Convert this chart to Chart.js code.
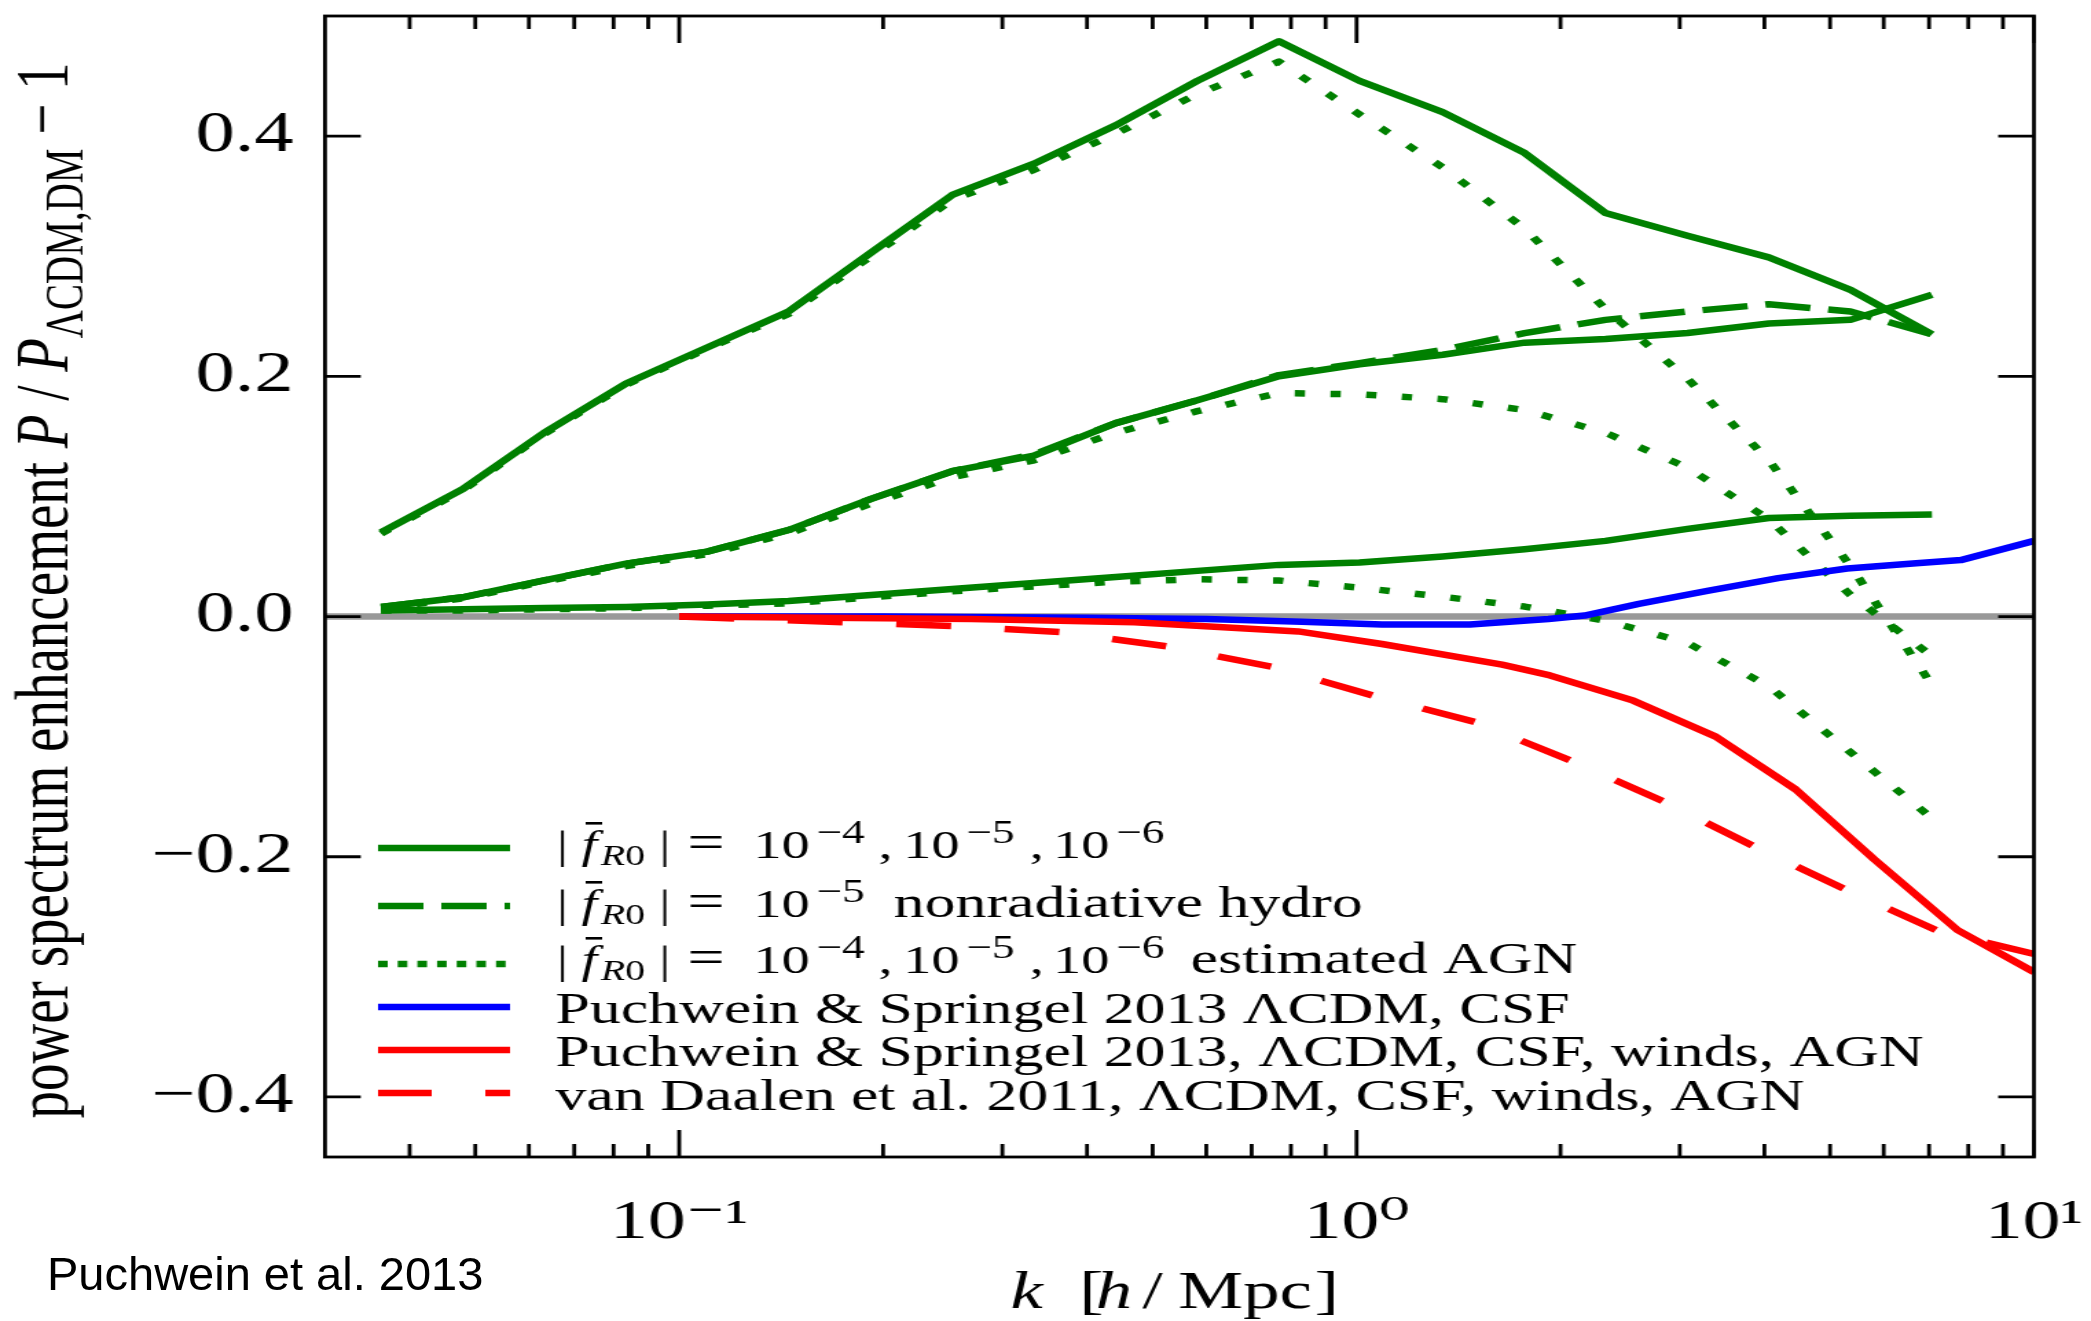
<!DOCTYPE html>
<html>
<head>
<meta charset="utf-8">
<script src="https://cdn.jsdelivr.net/npm/chart.js@4.4.1/dist/chart.umd.min.js"></script>
<style>
  html, body { margin: 0; padding: 0; background: #fff; overflow: hidden; }
  #wrap { position: relative; width: 2091px; height: 1321px; background: #fff; }
  #c { position: absolute; left: 0; top: 0; }
  #note { position: absolute; left: 47px; top: 1251px; font: 47px 'Liberation Sans', Arial, sans-serif;
          line-height: 46px; color: #000; white-space: nowrap; }
</style>
</head>
<body>
<div id="wrap">
  <canvas id="c" width="1521" height="1321" style="width:2091px;height:1321px"></canvas>
  <div id="note">Puchwein et al. 2013</div>
</div>
<script>
// ---------------- data ----------------
const kSim = [0.0363, 0.0479, 0.0632, 0.0835, 0.110, 0.145, 0.192, 0.253, 0.334, 0.441,
              0.582, 0.768, 1.01, 1.34, 1.77, 2.33, 3.08, 4.06, 5.36, 7.07];
const fR4 = [0.070, 0.106, 0.153, 0.194, 0.224, 0.254, 0.303, 0.351, 0.377, 0.409,
             0.446, 0.479, 0.446, 0.420, 0.386, 0.336, 0.317, 0.299, 0.272, 0.235];
const fR5 = [0.008, 0.016, 0.030, 0.044, 0.054, 0.072, 0.098, 0.121, 0.134, 0.161,
             0.180, 0.200, 0.210, 0.218, 0.228, 0.231, 0.236, 0.244, 0.247, 0.268];
const fR6 = [0.005, 0.006, 0.007, 0.008, 0.010, 0.013, 0.018, 0.023, 0.028, 0.033,
             0.038, 0.043, 0.045, 0.050, 0.056, 0.063, 0.073, 0.082, 0.084, 0.085];
const fR5Hydro = [0.008, 0.016, 0.030, 0.044, 0.054, 0.072, 0.098, 0.121, 0.135, 0.161,
                  0.180, 0.201, 0.211, 0.222, 0.236, 0.247, 0.254, 0.260, 0.254, 0.235];
const fR4AGN = [0.069, 0.105, 0.152, 0.193, 0.223, 0.252, 0.300, 0.347, 0.372, 0.402,
                0.435, 0.462, 0.418, 0.374, 0.323, 0.256, 0.198, 0.130, 0.042, -0.057];
const fR5AGN = [0.007, 0.015, 0.029, 0.042, 0.052, 0.069, 0.094, 0.116, 0.130, 0.153,
                0.171, 0.186, 0.185, 0.181, 0.172, 0.153, 0.124, 0.081, 0.018, -0.033];
const fR6AGN = [0.005, 0.005, 0.006, 0.007, 0.009, 0.011, 0.016, 0.021, 0.025, 0.029,
                0.031, 0.030, 0.024, 0.0165, 0.0083, -0.0034, -0.022, -0.058, -0.113, -0.168];

const kPS13CSF = [0.1, 0.2, 0.4, 0.6, 0.83, 1.09, 1.47, 1.92, 2.17, 2.61, 3.31, 4.19, 5.3, 6.7, 7.8, 10];
const ps13CSF  = [0, 0, -0.001, -0.002, -0.0044, -0.0067, -0.0067, -0.002, 0.0008, 0.0105,
                  0.0216, 0.032, 0.040, 0.0443, 0.047, 0.063];
const kPS13AGN = [0.1, 0.27, 0.47, 0.82, 1.09, 1.64, 1.93, 2.56, 3.39, 4.45, 5.82, 7.71, 10];
const ps13AGN  = [0, -0.002, -0.0047, -0.0124, -0.0229, -0.040, -0.049, -0.070, -0.100,
                  -0.144, -0.2025, -0.261, -0.296];
const kVD11 = [0.1, 0.18, 0.255, 0.367, 0.527, 0.752, 1.06, 1.5, 2.07, 2.84, 3.88, 5.26, 7.23, 10];
const vd11  = [0, -0.005, -0.008, -0.013, -0.025, -0.042, -0.066, -0.088, -0.120, -0.154,
               -0.192, -0.227, -0.262, -0.281];
const kZero = [0.03, 10];
const zeroLine = [0, 0];

const xTickValues = [0.1, 1, 10];
const xTickLabels = ['10\u207B\u00B9', '10\u2070', '10\u00B9'];
const yTickValues = [-0.4, -0.2, 0, 0.2, 0.4];
const yTickLabels = ['\u22120.4', '\u22120.2', '0.0', '0.2', '0.4'];

// ---------------- styling ----------------
const SERIF = "'Liberation Serif', 'Times New Roman', 'DejaVu Serif', serif";
const GREEN = '#008000', BLUE = '#0000ff', RED = '#ff0000', GREY = '#999999';
const LW = 6.5;
const DASH = [33, 13], DOT = [7.5, 18.5], RDASH = [40, 39];

const pts = (ks, vs) => ks.map((k, i) => ({ x: k, y: vs[i] }));
function ds(label, ks, vs, color, dash, order) {
  return { label, data: pts(ks, vs), borderColor: color, backgroundColor: color,
           borderWidth: LW, borderDash: dash, borderCapStyle: 'butt',
           borderJoinStyle: 'round', pointRadius: 0, tension: 0, fill: false, order };
}

const datasets = [
  ds('fR0 1e-4', kSim, fR4, GREEN, [], 5),
  ds('fR0 1e-5', kSim, fR5, GREEN, [], 5),
  ds('fR0 1e-6', kSim, fR6, GREEN, [], 5),
  ds('fR0 1e-5 nonradiative hydro', kSim, fR5Hydro, GREEN, DASH, 5),
  ds('fR0 1e-4 estimated AGN', kSim, fR4AGN, GREEN, DOT, 5),
  ds('fR0 1e-5 estimated AGN', kSim, fR5AGN, GREEN, DOT, 5),
  ds('fR0 1e-6 estimated AGN', kSim, fR6AGN, GREEN, DOT, 5),
  ds('Puchwein & Springel 2013 LCDM, CSF', kPS13CSF, ps13CSF, BLUE, [], 3),
  ds('Puchwein & Springel 2013, LCDM, CSF, winds, AGN', kPS13AGN, ps13AGN, RED, [], 2),
  ds('van Daalen et al. 2011, LCDM, CSF, winds, AGN', kVD11, vd11, RED, RDASH, 1),
  ds('zero', kZero, zeroLine, GREY, [], 10)
];

// ---------------- text helpers ----------------
function fnt(it, size) { return (it ? 'italic ' : '') + size + 'px ' + SERIF; }
function piecesWidth(ctx, pieces) {
  let w = 0;
  for (const p of pieces) { ctx.font = fnt(p.it, p.s); w += (p.g || 0) + ctx.measureText(p.t).width; }
  return w;
}
// pieces: t = text, s = size, it = italic, dy = baseline shift, g = gap before, x = absolute start
function drawPieces(ctx, pieces, x, y) {
  let cx = x;
  for (const p of pieces) {
    if (p.x !== undefined) cx = p.x; else cx += p.g || 0;
    ctx.font = fnt(p.it, p.s);
    ctx.fillText(p.t, cx, y + (p.dy || 0));
    if (p.macron) ctx.fillRect(cx + 3, y - 36, 12, 2.6);
    cx += ctx.measureText(p.t).width;
  }
  return cx;
}

// ---------------- legend content ----------------
const fR0 = () => [
  { t: '|', s: 41, x: 405 },
  { t: 'f', s: 41, it: true, x: 423, macron: true },
  { t: 'R', s: 29, it: true, dy: 7, x: 437 },
  { t: '0', s: 29, dy: 7 },
  { t: '|', s: 41, x: 479.5 },
  { t: '=', s: 48, x: 500 }
];
const pow10 = (e, x, xs) => [{ t: '10', s: 41, x }, { t: '\u2212' + e, s: 33, dy: -15, x: xs }];
const threePowers = () => [
  ...pow10('4', 548, 594), { t: ',', s: 41, x: 639 },
  ...pow10('5', 657, 703), { t: ',', s: 41, x: 749 },
  ...pow10('6', 766, 812)
];
const legendRows = [
  { color: GREEN, dash: [], lineY: 848, baseY: 858, pieces: [...fR0(), ...threePowers()] },
  { color: GREEN, dash: [33, 13], lineY: 906, baseY: 917,
    pieces: [...fR0(), ...pow10('5', 548, 594), { t: 'nonradiative hydro', s: 45, x: 650 }] },
  { color: GREEN, dash: [7, 7.3], lineY: 964, baseY: 973,
    pieces: [...fR0(), ...threePowers(), { t: 'estimated AGN', s: 45, x: 866 }] },
  { color: BLUE, dash: [], lineY: 1007, baseY: 1023,
    pieces: [{ t: 'Puchwein & Springel 2013 \u039BCDM, CSF', s: 45, x: 404 }] },
  { color: RED, dash: [], lineY: 1050, baseY: 1066,
    pieces: [{ t: 'Puchwein & Springel 2013, \u039BCDM, CSF, winds, AGN', s: 45, x: 404 }] },
  { color: RED, dash: [39, 39], lineY: 1093, baseY: 1110,
    pieces: [{ t: 'van Daalen et al. 2011, \u039BCDM, CSF, winds, AGN', s: 45, x: 404 }] }
];

// ---------------- plugins ----------------
const framePlugin = {
  id: 'frame',
  afterDatasetsDraw(chart) {
    const { ctx, chartArea: a, scales: { x, y } } = chart;
    ctx.save();
    ctx.strokeStyle = '#000';
    ctx.lineCap = 'butt';
    ctx.lineWidth = 2.8;
    ctx.strokeRect(a.left, a.top, a.right - a.left, a.bottom - a.top);
    ctx.beginPath();
    yTickValues.forEach(v => {
      const p = y.getPixelForValue(v);
      ctx.moveTo(a.left, p); ctx.lineTo(a.left + 26, p);
      ctx.moveTo(a.right, p); ctx.lineTo(a.right - 26, p);
    });
    const minors = [];
    [0.01, 0.1, 1].forEach(d => { for (let m = 2; m <= 9; m++) minors.push(m * d); });
    xTickValues.forEach(v => {
      const p = x.getPixelForValue(v);
      ctx.moveTo(p, a.bottom); ctx.lineTo(p, a.bottom - 27);
      ctx.moveTo(p, a.top); ctx.lineTo(p, a.top + 27);
    });
    minors.filter(v => v > x.min * 1.0001 && v < x.max).forEach(v => {
      const p = x.getPixelForValue(v);
      ctx.moveTo(p, a.bottom); ctx.lineTo(p, a.bottom - 13);
      ctx.moveTo(p, a.top); ctx.lineTo(p, a.top + 13);
    });
    ctx.stroke();
    ctx.restore();
  },
  afterDraw(chart) {
    const { ctx, chartArea: a } = chart;
    ctx.save();
    ctx.fillStyle = '#000';
    ctx.textBaseline = 'alphabetic';
    ctx.textAlign = 'left';
    // x-axis title
    const xt = [
      { t: 'k', s: 53, it: true, x: 735 }, { t: '[', s: 53, x: 785 }, { t: 'h', s: 53, it: true, x: 797 },
      { t: '/', s: 53, x: 831 }, { t: 'Mpc', s: 53, x: 857 }, { t: ']', s: 53, g: 2 }
    ];
    drawPieces(ctx, xt, 0, 1308);
    // y-axis title (rotated)
    const yt = [
      { t: 'power spectrum enhancement ', s: 55 }, { t: 'P', s: 55, it: true },
      { t: ' / ', s: 55 }, { t: 'P', s: 55, it: true },
      { t: '\u039BCDM,DM', s: 39, dy: 11 }, { t: ' \u2212 1', s: 55 }
    ];
    const yw = piecesWidth(ctx, yt);
    ctx.translate(48.5, (a.top + a.bottom) / 2);
    ctx.rotate(-Math.PI / 2);
    drawPieces(ctx, yt, -yw / 2 - 4, 0);
    ctx.restore();

    // legend
    ctx.save();
    legendRows.forEach(r => {
      ctx.strokeStyle = r.color;
      ctx.lineWidth = LW;
      ctx.lineCap = 'butt';
      ctx.setLineDash(r.dash);
      ctx.beginPath();
      ctx.moveTo(275, r.lineY); ctx.lineTo(371, r.lineY);
      ctx.stroke();
      ctx.setLineDash([]);
      ctx.fillStyle = '#000';
      ctx.textBaseline = 'alphabetic';
      drawPieces(ctx, r.pieces, 406, r.baseY);
    });
    ctx.restore();
  }
};

// ---------------- chart ----------------
const chart = new Chart(document.getElementById('c'), {
  type: 'line',
  data: { datasets },
  options: {
    responsive: false,
    animation: false,
    devicePixelRatio: 1,
    layout: { padding: { left: 0, right: 41.5, top: 16, bottom: 0 } },
    plugins: { legend: { display: false }, tooltip: { enabled: false } },
    scales: {
      x: {
        type: 'logarithmic', position: 'bottom', min: 0.03, max: 10,
        grid: { display: false }, border: { display: false },
        afterBuildTicks: s => { s.ticks = xTickValues.map(v => ({ value: v })); },
        afterFit: s => { s.height = 164; s.paddingLeft = 0; s.paddingRight = 0; s.paddingTop = 0; s.paddingBottom = 0; },
        ticks: { padding: 26, maxRotation: 0, autoSkip: false, color: '#000',
                 font: { family: SERIF, size: 55 },
                 callback: (v, i) => xTickLabels[i] }
      },
      y: {
        type: 'linear', min: -0.45, max: 0.5,
        grid: { display: false }, border: { display: false },
        afterBuildTicks: s => { s.ticks = yTickValues.map(v => ({ value: v })); },
        afterFit: s => { s.width = 236.4; s.paddingLeft = 0; s.paddingRight = 0; s.paddingTop = 0; s.paddingBottom = 0; },
        ticks: { padding: 15, color: '#000', font: { family: SERIF, size: 57 },
                 callback: (v, i) => yTickLabels[i] }
      }
    }
  },
  plugins: [framePlugin]
});
const cv = document.getElementById('c');
cv.style.width = '2091px';
cv.style.height = '1321px';
</script>
</body>
</html>
